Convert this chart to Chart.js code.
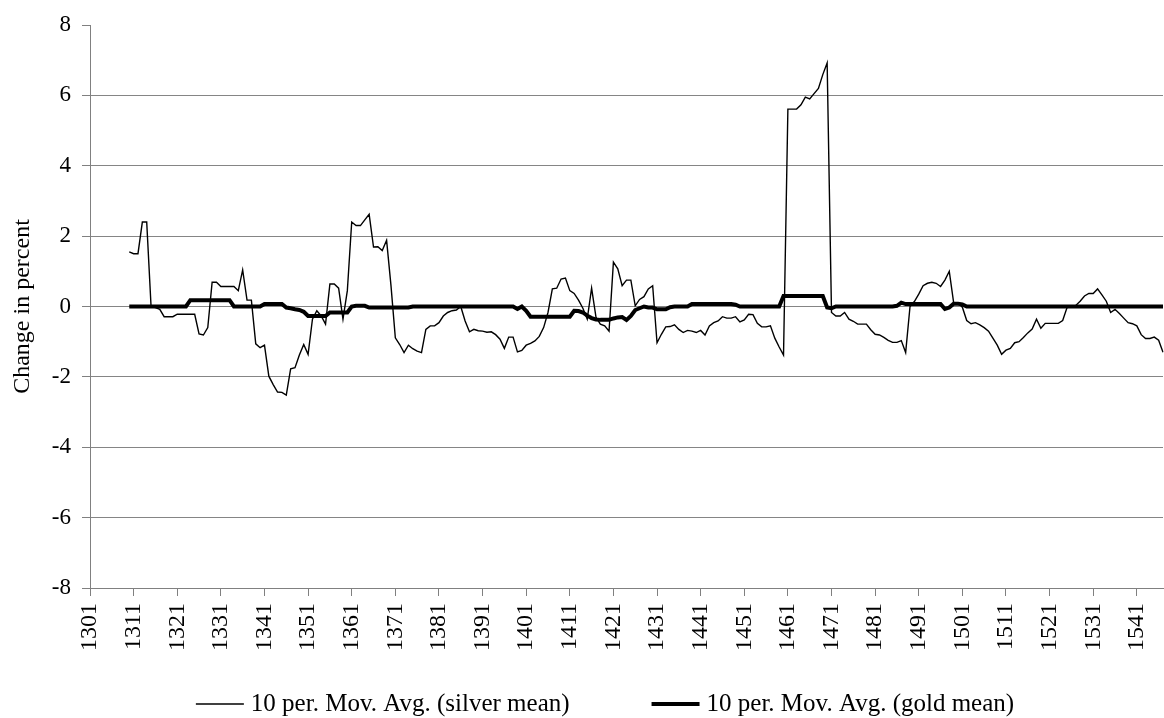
<!DOCTYPE html>
<html>
<head>
<meta charset="utf-8">
<title>10 per. Mov. Avg. (silver and gold mean)</title>
<script src="https://cdn.jsdelivr.net/npm/chart.js@4.4.1/dist/chart.umd.min.js"></script>
<style>
  html, body { margin: 0; padding: 0; background: #fff; }
  #wrap { width: 1164px; height: 718px; }
</style>
</head>
<body>
<div id="wrap"><canvas id="movAvgChart"></canvas></div>
<script>
// category axis: one slot per year, labelled every 10 years
const firstYear = 1301;
const lastYear = 1547;
const labelStep = 10;
const years = [];
for (let y = firstYear; y <= lastYear; y++) years.push(String(y));

// moving averages start with the 10th observation
const seriesStart = 1310;

// 10 per. Mov. Avg. (silver mean), 1310-1547
const silverMean = [
  1.55, 1.5, 1.5, 2.4, 2.4, 0.0, -0.03, -0.08, -0.29, -0.29,
  -0.29, -0.22, -0.22, -0.22, -0.22, -0.22, -0.78, -0.81, -0.6, 0.69,
  0.69, 0.57, 0.57, 0.57, 0.57, 0.45, 1.04, 0.18, 0.18, -1.06,
  -1.17, -1.1, -1.98, -2.22, -2.43, -2.44, -2.52, -1.77, -1.74, -1.38,
  -1.08, -1.36, -0.36, -0.12, -0.27, -0.5, 0.64, 0.64, 0.52, -0.36,
  0.45, 2.4, 2.3, 2.3, 2.46, 2.62, 1.69, 1.7, 1.59, 1.88,
  0.6, -0.89, -1.08, -1.31, -1.1, -1.2, -1.27, -1.31, -0.65, -0.55,
  -0.55, -0.46, -0.27, -0.17, -0.12, -0.1, 0.0, -0.41, -0.72, -0.65,
  -0.69, -0.7, -0.73, -0.72, -0.8, -0.93, -1.19, -0.87, -0.87, -1.29,
  -1.25, -1.1, -1.05, -0.98, -0.85, -0.6, -0.17, 0.5, 0.52, 0.78,
  0.81, 0.45, 0.37, 0.18, -0.05, -0.36, 0.52, -0.3, -0.5, -0.55,
  -0.7, 1.26, 1.07, 0.59, 0.75, 0.75, 0.02, 0.2, 0.28, 0.5,
  0.59, -1.03, -0.79, -0.58, -0.57, -0.52, -0.65, -0.74, -0.68, -0.7,
  -0.74, -0.68, -0.81, -0.55, -0.46, -0.41, -0.29, -0.33, -0.33, -0.29,
  -0.44, -0.38, -0.22, -0.23, -0.48, -0.58, -0.58, -0.55, -0.9, -1.15,
  -1.38, 5.61, 5.61, 5.61, 5.73, 5.95, 5.9, 6.05, 6.2, 6.59,
  6.92, -0.17, -0.27, -0.27, -0.17, -0.36, -0.42, -0.5, -0.5, -0.5,
  -0.66, -0.79, -0.81, -0.88, -0.96, -1.02, -1.02, -0.97, -1.31, 0.0,
  0.14, 0.35, 0.59, 0.66, 0.69, 0.66, 0.57, 0.75, 1.0, 0.11,
  0.1, -0.02, -0.4, -0.49, -0.46, -0.52, -0.6, -0.7, -0.9, -1.1,
  -1.36, -1.24, -1.19, -1.03, -1.0, -0.88, -0.75, -0.64, -0.36, -0.62,
  -0.48, -0.48, -0.48, -0.48, -0.4, -0.03, 0.0, 0.03, 0.15, 0.3,
  0.37, 0.37, 0.5, 0.33, 0.15, -0.17, -0.08, -0.2, -0.33, -0.46,
  -0.49, -0.55, -0.8, -0.91, -0.91, -0.87, -0.96, -1.3
];

// 10 per. Mov. Avg. (gold mean), 1310-1547
const goldMean = [
  0, 0, 0, 0, 0, 0, 0, 0, 0, 0,
  0, 0, 0, 0, 0.18, 0.18, 0.18, 0.18, 0.18, 0.18,
  0.18, 0.18, 0.18, 0.18, 0, 0, 0, 0, 0, 0,
  0, 0.07, 0.07, 0.07, 0.07, 0.07, -0.03, -0.05, -0.08, -0.1,
  -0.15, -0.27, -0.27, -0.27, -0.27, -0.27, -0.17, -0.17, -0.17, -0.17,
  -0.17, 0, 0.02, 0.02, 0.02, -0.03, -0.03, -0.03, -0.03, -0.03,
  -0.03, -0.03, -0.03, -0.03, -0.03, 0, 0, 0, 0, 0,
  0, 0, 0, 0, 0, 0, 0, 0, 0, 0,
  0, 0, 0, 0, 0, 0, 0, 0, 0, -0.07,
  0, -0.12, -0.29, -0.29, -0.29, -0.29, -0.29, -0.29, -0.29, -0.29,
  -0.29, -0.29, -0.12, -0.13, -0.17, -0.26, -0.33, -0.37, -0.38, -0.38,
  -0.38, -0.34, -0.31, -0.3, -0.38, -0.27, -0.1, -0.05, 0, -0.03,
  -0.03, -0.08, -0.08, -0.08, -0.02, 0, 0, 0, 0, 0.07,
  0.07, 0.07, 0.07, 0.07, 0.07, 0.07, 0.07, 0.07, 0.07, 0.05,
  0, 0, 0, 0, 0, 0, 0, 0, 0, 0,
  0.3, 0.3, 0.3, 0.3, 0.3, 0.3, 0.3, 0.3, 0.3, 0.3,
  -0.03, -0.05, 0, 0, 0, 0, 0, 0, 0, 0,
  0, 0, 0, 0, 0, 0, 0.02, 0.11, 0.07, 0.07,
  0.07, 0.07, 0.07, 0.07, 0.07, 0.07, 0.07, -0.07, -0.03, 0.08,
  0.08, 0.06, 0, 0, 0, 0, 0, 0, 0, 0,
  0, 0, 0, 0, 0, 0, 0, 0, 0, 0,
  0, 0, 0, 0, 0, 0, 0, 0, 0, 0,
  0, 0, 0, 0, 0, 0, 0, 0, 0, 0,
  0, 0, 0, 0, 0, 0, 0, 0
];

const seriesNames = ["10 per. Mov. Avg. (silver mean)", "10 per. Mov. Avg. (gold mean)"];
const yTitle = "Change in percent";
const yMin = -8, yMax = 8, yStep = 2;

// pad the years before the first average with gaps
const lead = new Array(seriesStart - firstYear).fill(null);

const serif = "'Liberation Serif', 'Times New Roman', serif";
const gridGrey = "#858585";

// legend drawn as line samples in one row below the axis labels
const legendFontSize = 25;
const legendLine = 48;
const legendTextGap = 7;
const legendItemGap = 82;
const legendCenterX = 605;
const legendY = 704;

const lineLegend = {
  id: 'lineLegend',
  afterDraw(chart) {
    const c = chart.ctx;
    c.save();
    c.font = legendFontSize + "px " + serif;
    c.textBaseline = 'middle';
    c.fillStyle = '#000';
    const items = chart.data.datasets.map(ds => ({
      ds: ds,
      w: legendLine + legendTextGap + c.measureText(ds.label).width
    }));
    const total = items.reduce((s, it) => s + it.w, 0) + legendItemGap * (items.length - 1);
    let x = legendCenterX - total / 2;
    items.forEach(it => {
      c.strokeStyle = it.ds.borderColor;
      c.lineWidth = it.ds.borderWidth;
      c.beginPath();
      c.moveTo(x, legendY);
      c.lineTo(x + legendLine, legendY);
      c.stroke();
      c.fillText(it.ds.label, x + legendLine + legendTextGap, legendY);
      x += it.w + legendItemGap;
    });
    c.restore();
  }
};

const ctx = document.getElementById("movAvgChart");
const movAvgChart = new Chart(ctx, {
  type: 'line',
  data: {
    labels: years,
    datasets: [
      {
        label: seriesNames[0],
        data: lead.concat(silverMean),
        borderColor: '#000',
        backgroundColor: '#000',
        borderWidth: 1.4,
        pointRadius: 0,
        tension: 0
      },
      {
        label: seriesNames[1],
        data: lead.concat(goldMean),
        borderColor: '#000',
        backgroundColor: '#000',
        borderWidth: 4,
        pointRadius: 0,
        tension: 0
      }
    ]
  },
  plugins: [lineLegend],
  options: {
    responsive: true,
    maintainAspectRatio: false,
    animation: false,
    layout: { padding: { top: 25, right: 1, bottom: 0, left: 0 } },
    plugins: {
      tooltip: { enabled: false },
      legend: { display: false }
    },
    scales: {
      x: {
        type: 'category',
        offset: false,
        afterFit: (scale) => {
          scale.height = 130;
          scale.paddingLeft = 0;
          scale.paddingRight = 0;
        },
        border: { display: true, color: '#808080', width: 1 },
        grid: {
          drawOnChartArea: false,
          drawTicks: true,
          tickLength: 8,
          tickColor: '#808080'
        },
        ticks: {
          autoSkip: false,
          maxRotation: 90,
          minRotation: 90,
          padding: 7,
          color: '#000',
          font: { family: serif, size: 24 },
          callback: function (val, idx) {
            return idx % labelStep === 0 ? years[idx] : null;
          }
        }
      },
      y: {
        min: yMin,
        max: yMax,
        afterFit: (scale) => { scale.width = 90; },
        border: { display: true, color: '#808080', width: 1 },
        grid: {
          color: (c) => (c.tick && c.tick.value === yMax ? 'rgba(0,0,0,0)' : gridGrey),
          lineWidth: 1,
          tickLength: 8,
          tickColor: '#808080'
        },
        ticks: {
          stepSize: yStep,
          padding: 11,
          color: '#000',
          font: { family: serif, size: 23 }
        },
        title: {
          display: true,
          text: yTitle,
          color: '#000',
          font: { family: serif, size: 24 },
          padding: { top: 8, bottom: 0 }
        }
      }
    }
  }
});
</script>
</body>
</html>
